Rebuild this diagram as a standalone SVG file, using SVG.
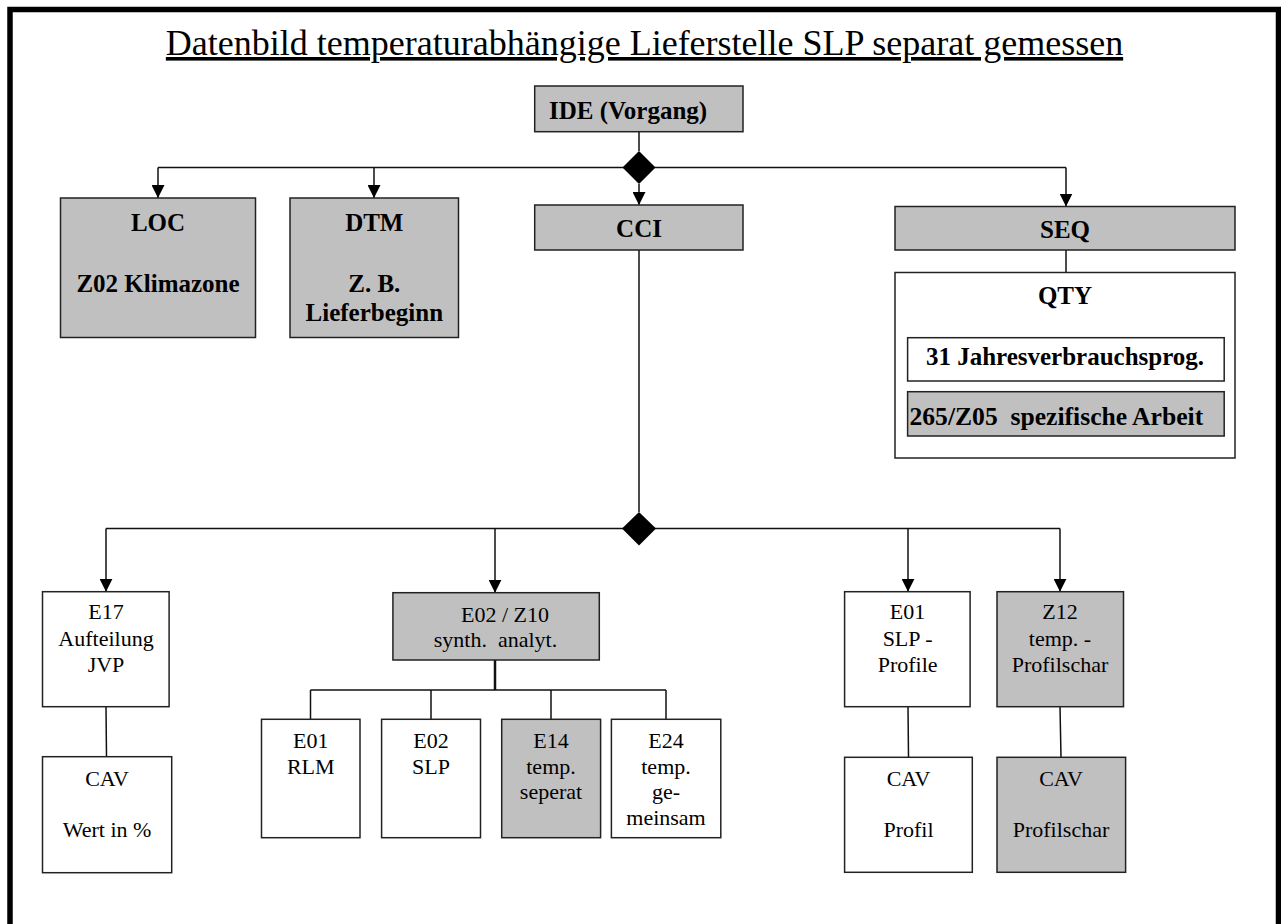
<svg xmlns="http://www.w3.org/2000/svg" width="1281" height="924" viewBox="0 0 1281 924">
<style>
  .frame { fill: none; stroke: #000; stroke-width: 5.5; }
  .box { stroke: #222; stroke-width: 1.5; }
  .g { fill: #c0c0c0; }
  .w { fill: #fff; }
  .t { font-family: "Liberation Serif", "Times New Roman", serif; fill: #000; }
  .b { font-weight: bold; font-size: 25px; }
  .r { font-size: 22px; }
  .c { text-anchor: middle; }
  .pre { white-space: pre; }
  .title { font-size: 36px; text-anchor: middle; text-decoration: underline; }
  .ln { fill: none; stroke: #111; stroke-width: 1.5; }
  .thick { stroke-width: 2.5; }
  .dia { fill: #000; }
</style>
<defs>
  <marker id="arr" viewBox="0 0 13 13" refX="13" refY="6.5" markerWidth="13" markerHeight="13" markerUnits="userSpaceOnUse" orient="auto">
    <path d="M0,0 L13,6.5 L0,13 z" fill="#000"/>
  </marker>
</defs>
<rect width="1281" height="924" fill="#fff"/>
<rect class="frame" x="10" y="9.5" width="1268.5" height="1000"/>
<text class="t title" x="644.5" y="55">Datenbild temperaturabhängige Lieferstelle SLP separat gemessen</text>

<g id="connectors">
  <line class="ln" x1="639" y1="132" x2="639" y2="151"/>
  <line class="ln" x1="158" y1="167.5" x2="1066" y2="167.5"/>
  <line class="ln" x1="158" y1="167.5" x2="158" y2="198" marker-end="url(#arr)"/>
  <line class="ln" x1="374" y1="167.5" x2="374" y2="198" marker-end="url(#arr)"/>
  <line class="ln" x1="639" y1="184" x2="639" y2="205" marker-end="url(#arr)"/>
  <line class="ln" x1="1066" y1="167.5" x2="1066" y2="206.5" marker-end="url(#arr)"/>
  <polygon class="dia" points="639,151 655.5,167.5 639,184 622.5,167.5"/>
  <line class="ln" x1="1066" y1="250" x2="1066" y2="272.5"/>
  <line class="ln" x1="639" y1="250" x2="639" y2="512"/>
  <line class="ln" x1="106" y1="528.5" x2="1060" y2="528.5"/>
  <line class="ln" x1="106" y1="528.5" x2="106" y2="591.7" marker-end="url(#arr)"/>
  <line class="ln" x1="495" y1="528.5" x2="495" y2="592.7" marker-end="url(#arr)"/>
  <line class="ln" x1="908" y1="528.5" x2="908" y2="591.7" marker-end="url(#arr)"/>
  <line class="ln" x1="1060" y1="528.5" x2="1060" y2="591.7" marker-end="url(#arr)"/>
  <polygon class="dia" points="639,512 656,528.5 639,545.5 622,528.5"/>
  <line class="ln" x1="106" y1="706.7" x2="106.5" y2="756.7"/>
  <line class="ln thick" x1="495" y1="660" x2="495" y2="690"/>
  <line class="ln" x1="310.5" y1="690" x2="666" y2="690"/>
  <line class="ln" x1="310.5" y1="690" x2="310.5" y2="719.3"/>
  <line class="ln" x1="431" y1="690" x2="431" y2="719.3"/>
  <line class="ln" x1="551" y1="690" x2="551" y2="719.3"/>
  <line class="ln" x1="666" y1="690" x2="666" y2="719.3"/>
  <line class="ln" x1="908" y1="706.7" x2="908.5" y2="757.3"/>
  <line class="ln" x1="1060" y1="706.7" x2="1061" y2="757.3"/>
</g>

<g id="ide">
  <rect class="box g" x="534.7" y="86" width="208.3" height="45.7"/>
  <text class="t b" x="549" y="118.5">IDE (Vorgang)</text>
</g>
<g id="loc">
  <rect class="box g" x="60.5" y="198" width="195" height="139.5"/>
  <text class="t b c" x="158" y="230.7">LOC</text>
  <text class="t b c" x="158" y="291.7">Z02 Klimazone</text>
</g>
<g id="dtm">
  <rect class="box g" x="290" y="198" width="168.5" height="139.5"/>
  <text class="t b c" x="374.3" y="230.7">DTM</text>
  <text class="t b c" x="374.3" y="291.7">Z. B.</text>
  <text class="t b c" x="374.3" y="320.7">Lieferbeginn</text>
</g>
<g id="cci">
  <rect class="box g" x="534.7" y="205" width="208.3" height="45"/>
  <text class="t b c" x="639" y="236.7">CCI</text>
</g>
<g id="seq">
  <rect class="box g" x="895" y="206.5" width="340" height="43.5"/>
  <text class="t b c" x="1065" y="238.3">SEQ</text>
</g>
<g id="qty">
  <rect class="box w" x="895" y="272.5" width="340" height="185.5"/>
  <text class="t b c" x="1065" y="304">QTY</text>
  <rect class="box w" x="907.6" y="337.7" width="316.6" height="43.3"/>
  <text class="t b c" x="1065" y="365">31 Jahresverbrauchsprog.</text>
  <rect class="box g" x="907.6" y="391.7" width="316.6" height="44.3"/>
  <text class="t b pre" x="909.5" y="425" textLength="293.7" lengthAdjust="spacingAndGlyphs">265/Z05  spezifische Arbeit</text>
</g>
<g id="e17">
  <rect class="box w" x="42.5" y="591.7" width="126.6" height="115"/>
  <text class="t r c" x="106" y="619.3">E17</text>
  <text class="t r c" x="106" y="646">Aufteilung</text>
  <text class="t r c" x="106" y="671.7">JVP</text>
</g>
<g id="cav1">
  <rect class="box w" x="42.5" y="756.7" width="129.2" height="116"/>
  <text class="t r c" x="107" y="785.7">CAV</text>
  <text class="t r c" x="107" y="837.3">Wert in %</text>
</g>
<g id="e02z10">
  <rect class="box g" x="392.9" y="592.7" width="206.4" height="67.3"/>
  <text class="t r c" x="505" y="621.7">E02 / Z10</text>
  <text class="t r c pre" x="495.5" y="647.3">synth.  analyt.</text>
</g>
<g id="e01rlm">
  <rect class="box w" x="261.5" y="719.3" width="98.5" height="118.4"/>
  <text class="t r c" x="310.75" y="748.3">E01</text>
  <text class="t r c" x="310.75" y="774">RLM</text>
</g>
<g id="e02slp">
  <rect class="box w" x="381.6" y="719.3" width="98.9" height="118.4"/>
  <text class="t r c" x="431" y="748.3">E02</text>
  <text class="t r c" x="431" y="774">SLP</text>
</g>
<g id="e14">
  <rect class="box g" x="501.7" y="719.3" width="98.9" height="118.4"/>
  <text class="t r c" x="551" y="748.3">E14</text>
  <text class="t r c" x="551" y="774">temp.</text>
  <text class="t r c" x="551" y="799.3">seperat</text>
</g>
<g id="e24">
  <rect class="box w" x="611.4" y="719.3" width="109.4" height="118.4"/>
  <text class="t r c" x="666" y="748.3">E24</text>
  <text class="t r c" x="666" y="774">temp.</text>
  <text class="t r c" x="666" y="799.3">ge-</text>
  <text class="t r c" x="666" y="825">meinsam</text>
</g>
<g id="e01slp">
  <rect class="box w" x="844.6" y="591.7" width="125.5" height="115"/>
  <text class="t r c" x="907.6" y="619.3">E01</text>
  <text class="t r c" x="907.6" y="646">SLP -</text>
  <text class="t r c" x="907.6" y="671.7">Profile</text>
</g>
<g id="z12">
  <rect class="box g" x="997" y="591.7" width="126.5" height="115"/>
  <text class="t r c" x="1060" y="619.3">Z12</text>
  <text class="t r c" x="1060" y="646">temp. -</text>
  <text class="t r c" x="1060" y="671.7">Profilschar</text>
</g>
<g id="cav2">
  <rect class="box w" x="844.6" y="757.3" width="127.7" height="115"/>
  <text class="t r c" x="908.5" y="785.7">CAV</text>
  <text class="t r c" x="908.5" y="837.3">Profil</text>
</g>
<g id="cav3">
  <rect class="box g" x="997" y="757.3" width="128.6" height="115"/>
  <text class="t r c" x="1061" y="785.7">CAV</text>
  <text class="t r c" x="1061" y="837.3">Profilschar</text>
</g>
</svg>
